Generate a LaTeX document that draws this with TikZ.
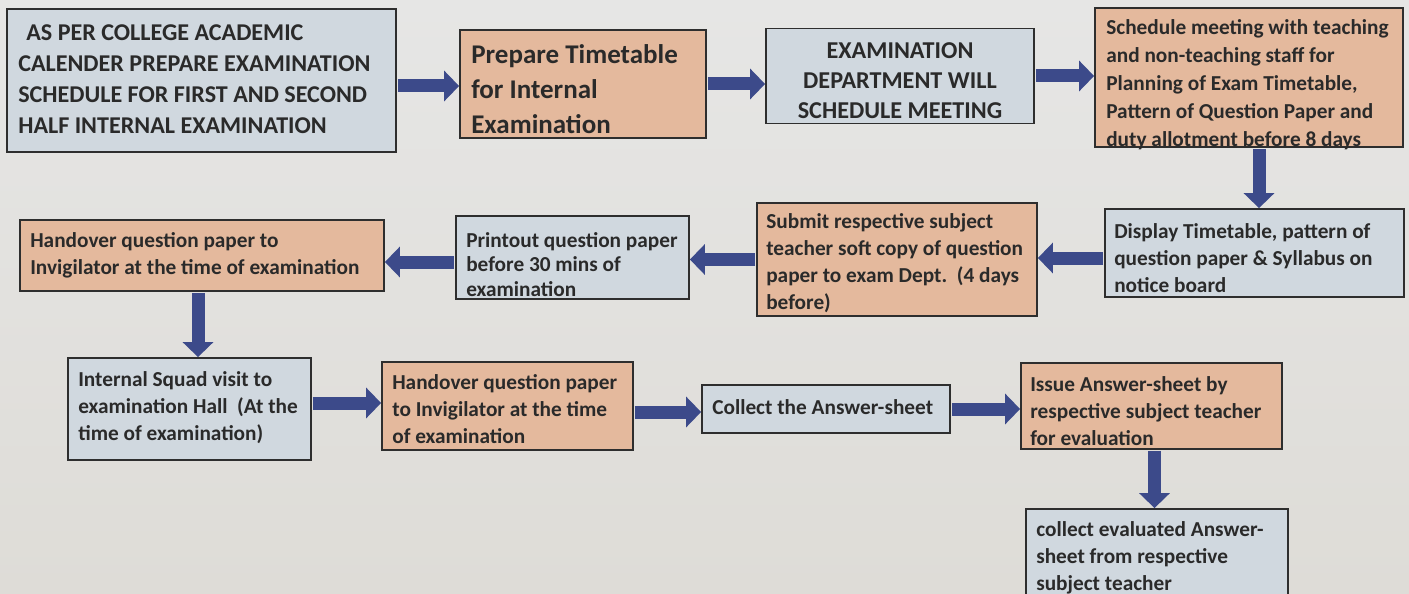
\documentclass[tikz,border=0pt]{standalone}
\usepackage{fontspec}
\setmainfont{Carlito}
\usetikzlibrary{arrows.meta}
\definecolor{bgtop}{HTML}{E6E6E5}
\definecolor{bgbot}{HTML}{DEDCD7}
\definecolor{boxblue}{HTML}{D0D8DF}
\definecolor{boxorange}{HTML}{E4B99D}
\definecolor{arrowblue}{HTML}{3C4A8A}
\definecolor{ink}{HTML}{2A2A2A}
\definecolor{edge}{HTML}{2E2E2E}
\begin{document}
\begin{tikzpicture}[x=1pt,y=-1pt,
  card/.style={draw=edge, line width=1.8pt, inner sep=0pt},
  bluecard/.style={card, fill=boxblue},
  orangecard/.style={card, fill=boxorange},
  txt/.style={inner sep=0pt, anchor=west, align=left, text=ink, font=\bfseries\fontsize{21.3}{27}\selectfont},
  fat/.style={draw=arrowblue, line width=13pt, shorten <=0.9pt, -{Triangle[width=30pt,length=15pt]}},
]
\path[use as bounding box] (0,0) rectangle (1409,594);
\shade[top color=bgtop, bottom color=bgbot] (0,0) rectangle (1409,594);

% boxes
\node[bluecard,   minimum width=389pt, minimum height=143pt] (a) at (201.5,80.5) {};
\node[orangecard, minimum width=246pt, minimum height=108pt] (b) at (583,84) {};
\node[bluecard,   minimum width=268pt, minimum height=95pt]  (c) at (900,76) {};
\node[orangecard, minimum width=308pt, minimum height=139pt] (d) at (1249,77.5) {};
\node[bluecard,   minimum width=299pt, minimum height=88pt]  (e) at (1254.5,253) {};
\node[orangecard, minimum width=280pt, minimum height=113pt] (f) at (897,259.5) {};
\node[bluecard,   minimum width=233pt, minimum height=83pt]  (g) at (572.5,257.5) {};
\node[orangecard, minimum width=364pt, minimum height=71pt]  (h) at (202,255.5) {};
\node[bluecard,   minimum width=243pt, minimum height=102pt] (i) at (189.5,409) {};
\node[orangecard, minimum width=251pt, minimum height=88pt]  (j) at (507.5,406) {};
\node[bluecard,   minimum width=248pt, minimum height=48pt]  (k) at (826,409) {};
\node[orangecard, minimum width=261pt, minimum height=86pt]  (l) at (1151.5,406) {};
\node[bluecard,   minimum width=262pt, minimum height=86pt]  (m) at (1157,552) {};

% connectors
\draw[fat] ([yshift=-5.5pt]a.east) -- ([yshift=-5.5pt]a.east -| b.west);
\draw[fat] (b.east) -- (b.east -| c.west);
\draw[fat] (c.east) -- (c.east -| d.west);
\draw[fat] ([xshift=10pt]d.south) -- ([xshift=10pt]d.south |- e.north);
\draw[fat] ([yshift=-5pt]e.west) -- ([yshift=-5pt]e.west -| f.east);
\draw[fat] (f.west) -- (f.west -| g.east);
\draw[fat] ([yshift=-4.5pt]g.west) -- ([yshift=-4.5pt]g.west -| h.east);
\draw[fat] ([xshift=-4pt]h.south) -- ([xshift=-4pt]h.south |- i.north);
\draw[fat] ([yshift=6pt]i.east) -- ([yshift=6pt]i.east -| j.west);
\draw[fat] ([yshift=-6pt]j.east) -- ([yshift=-6pt]j.east -| k.west);
\draw[fat] (k.east) -- (k.east -| l.west);
\draw[fat] ([xshift=3pt]l.south) -- ([xshift=3pt]l.south |- m.north);

% texts
\node[txt, font=\bfseries\fontsize{24.1}{31}\selectfont] (ta) at ([shift={(12,-1.5)}]a.west)
  {\hspace*{8pt}AS PER COLLEGE ACADEMIC\\CALENDER PREPARE EXAMINATION\\SCHEDULE FOR FIRST AND SECOND\\HALF INTERNAL EXAMINATION};
\node[txt, font=\bfseries\fontsize{27}{35}\selectfont] (tb) at ([shift={(12,5)}]b.west)
  {Prepare Timetable\\for Internal\\Examination};
\node[txt, anchor=center, align=center, font=\bfseries\fontsize{24.2}{30}\selectfont] (tc) at ([shift={(0,5)}]c.center)
  {EXAMINATION\\DEPARTMENT WILL\\SCHEDULE MEETING};
\node[txt, font=\bfseries\fontsize{21.3}{28}\selectfont] (td) at ([shift={(12,7.5)}]d.west)
  {Schedule meeting with teaching\\and non-teaching staff for\\Planning of Exam Timetable,\\Pattern of Question Paper and\\duty allotment before 8 days};
\node[txt] (te) at ([shift={(10,5)}]e.west)
  {Display Timetable, pattern of\\question paper \& Syllabus on\\notice board};
\node[txt] (tf) at ([shift={(10,3.5)}]f.west)
  {Submit respective subject\\teacher soft copy of question\\paper to exam Dept.\ \ (4 days\\before)};
\node[txt, font=\bfseries\fontsize{21.3}{24.5}\selectfont] (tg) at ([shift={(11,7)}]g.west)
  {Printout question paper\\before 30 mins of\\examination};
\node[txt] (th) at ([shift={(11,0)}]h.west)
  {Handover question paper to\\Invigilator at the time of examination};
\node[txt] (ti) at ([shift={(11,-1.5)}]i.west)
  {Internal Squad visit to\\examination Hall\ \ (At the\\time of examination)};
\node[txt] (tj) at ([shift={(11,3)}]j.west)
  {Handover question paper\\to Invigilator at the time\\of examination};
\node[txt] (tk) at ([shift={(11,-2)}]k.west)
  {Collect the Answer-sheet};
\node[txt] (tl) at ([shift={(10,5)}]l.west)
  {Issue Answer-sheet by\\respective subject teacher\\for evaluation};
\node[txt] (tm) at ([shift={(11,5.5)}]m.west)
  {collect evaluated Answer-\\sheet from respective\\subject teacher};
\end{tikzpicture}
\end{document}
